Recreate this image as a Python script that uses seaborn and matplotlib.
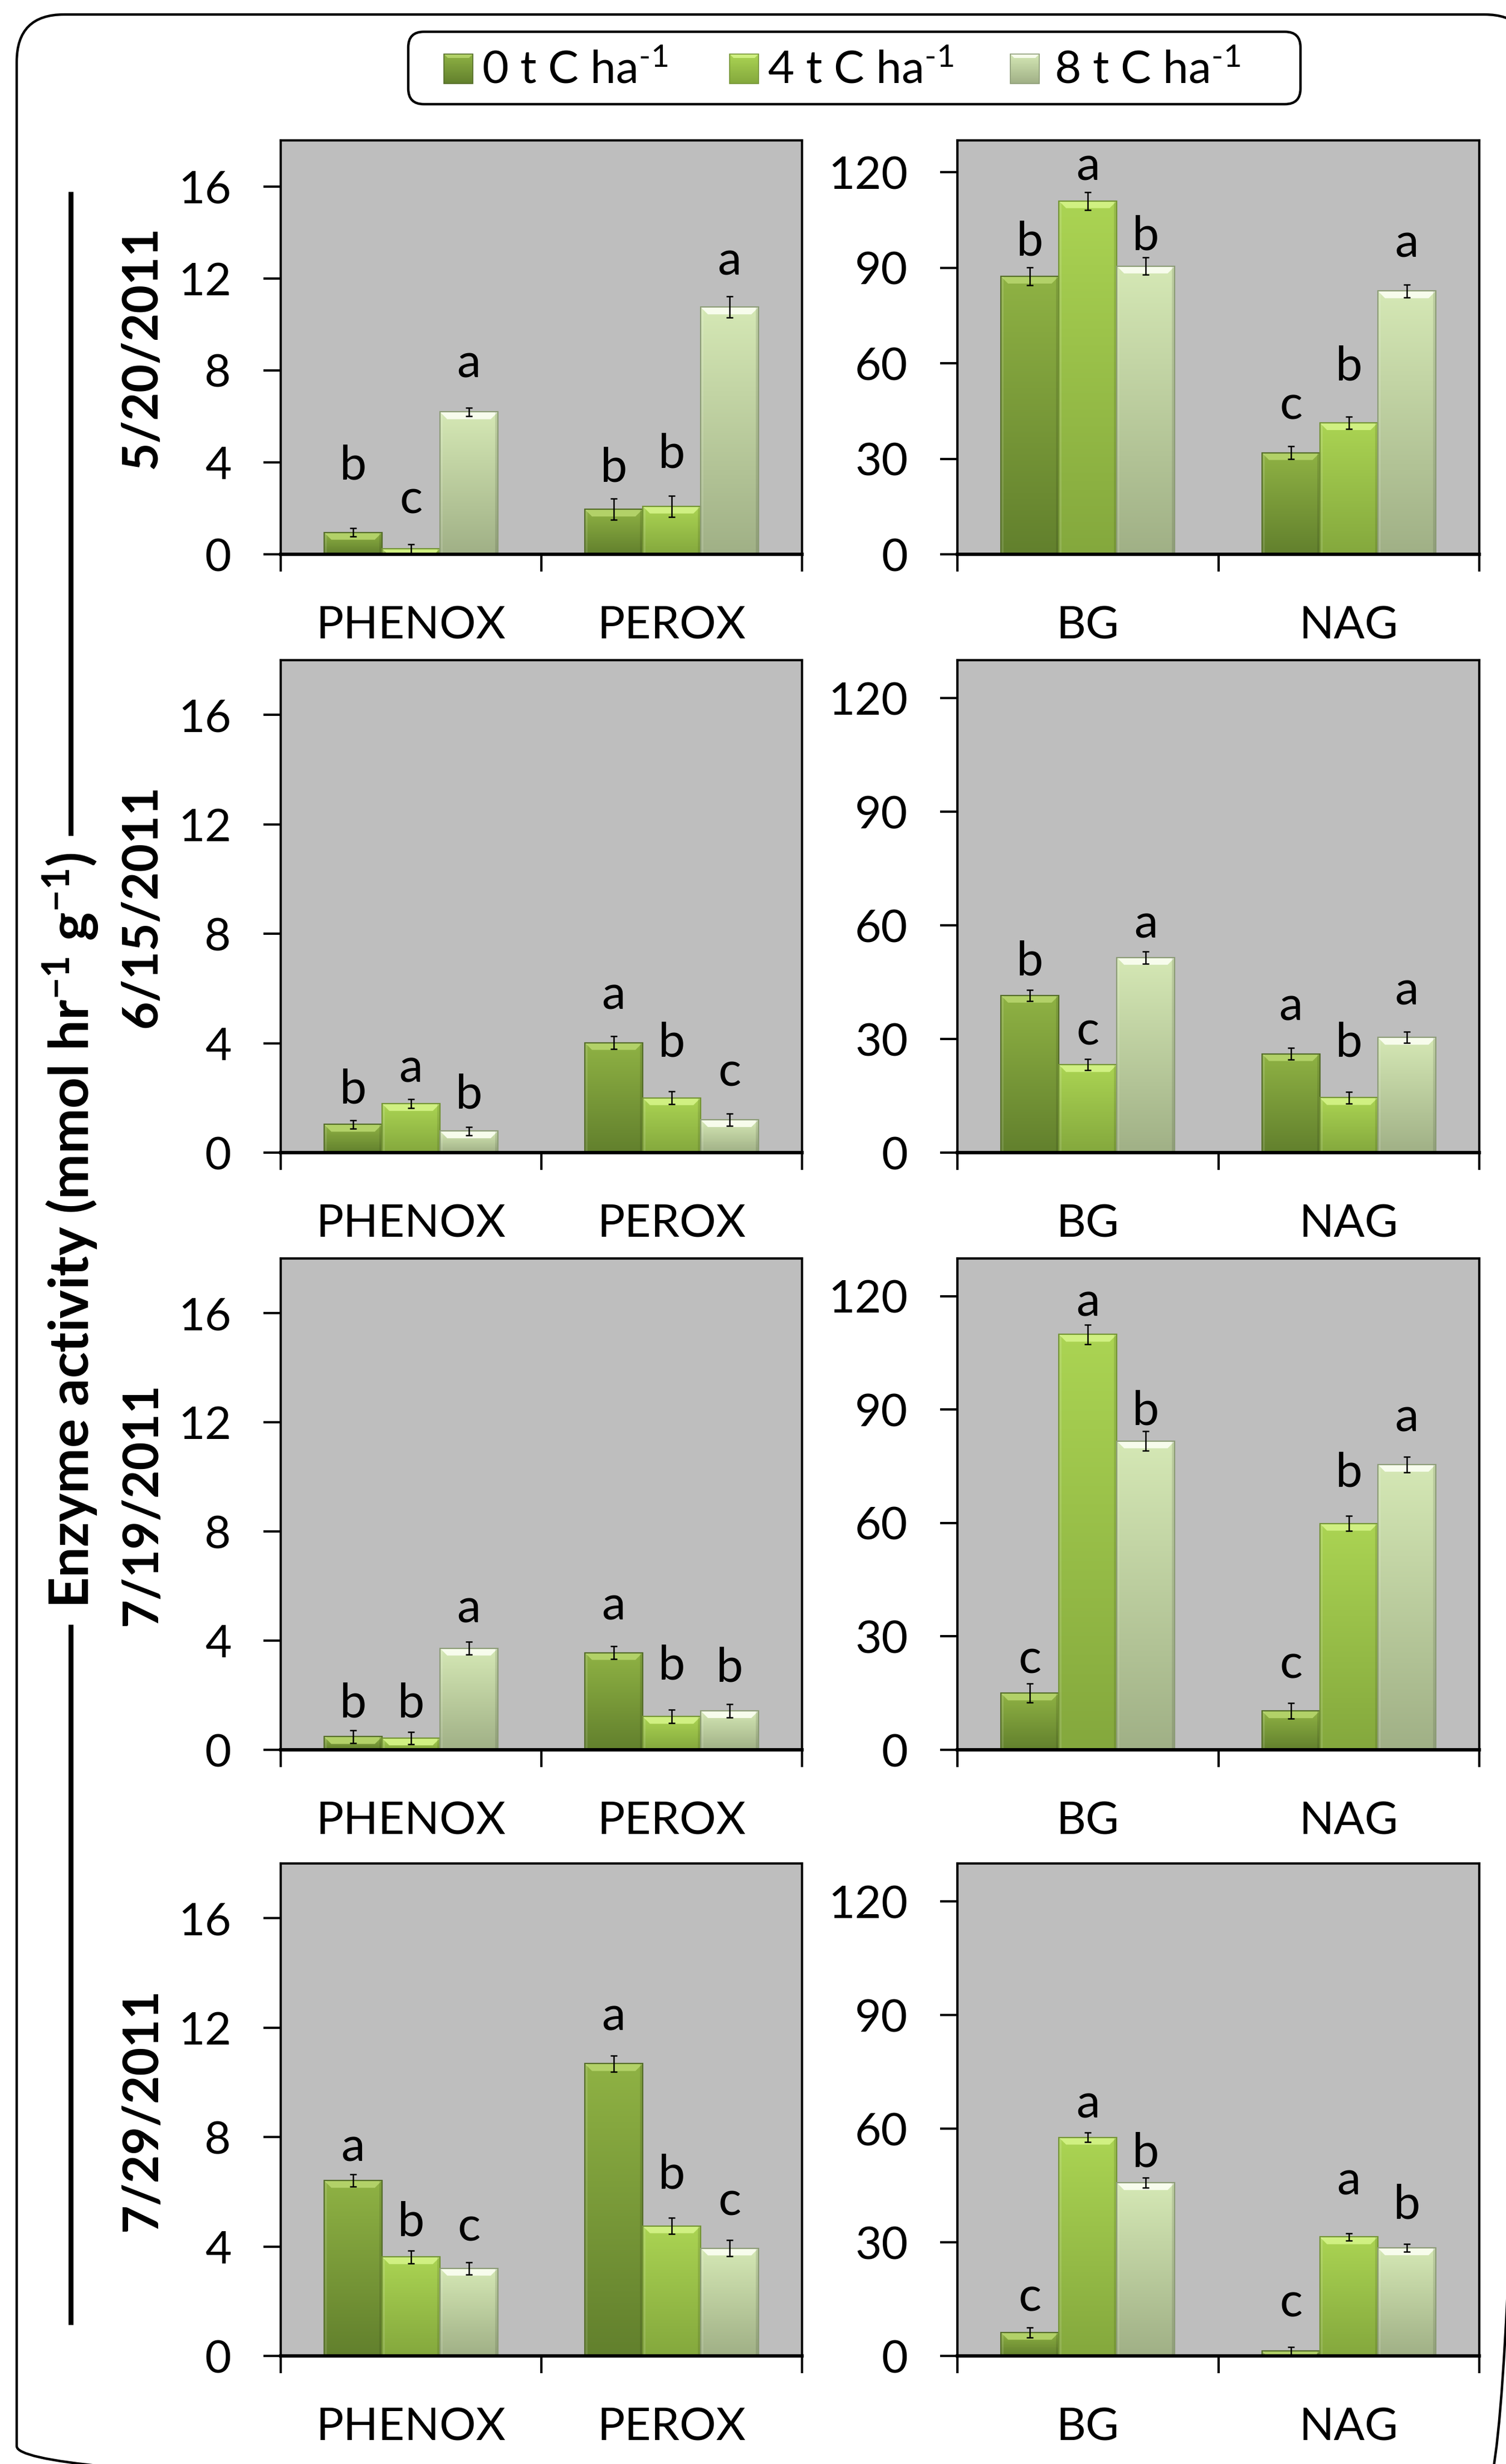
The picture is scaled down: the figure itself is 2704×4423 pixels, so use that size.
import numpy as np
import pandas as pd
import matplotlib
matplotlib.use("Agg")
import matplotlib.pyplot as plt
import seaborn as sns
from matplotlib.colors import LinearSegmentedColormap
from matplotlib.patches import FancyBboxPatch, Polygon, Rectangle
from matplotlib.lines import Line2D
from matplotlib.container import BarContainer

# ---------------- data ----------------
dates = ["5/20/2011", "6/15/2011", "7/19/2011", "7/29/2011"]
treatments = [r"0 t C ha$^{\text{-1}}$", r"4 t C ha$^{\text{-1}}$", r"8 t C ha$^{\text{-1}}$"]
ox_enzymes = ["PHENOX", "PEROX"]
hy_enzymes = ["BG", "NAG"]

# [date][enzyme][treatment]
ox_mean = [
    [[0.95, 0.25, 6.19], [1.96, 2.09, 10.75]],
    [[1.03, 1.79, 0.79], [4.02, 2.00, 1.20]],
    [[0.48, 0.43, 3.72], [3.56, 1.22, 1.43]],
    [[6.41, 3.62, 3.20], [10.68, 4.75, 3.94]],
]
ox_se = [
    [[0.18, 0.19, 0.19], [0.47, 0.46, 0.46]],
    [[0.15, 0.16, 0.15], [0.23, 0.23, 0.23]],
    [[0.23, 0.23, 0.23], [0.24, 0.24, 0.24]],
    [[0.23, 0.23, 0.23], [0.29, 0.29, 0.30]],
]
hy_mean = [
    [[87.3, 111.0, 90.5], [31.9, 41.3, 82.7]],
    [[41.5, 23.2, 51.5], [26.1, 14.5, 30.4]],
    [[15.0, 109.9, 81.7], [10.3, 59.9, 75.5]],
    [[6.2, 57.7, 45.7], [1.3, 31.4, 28.5]],
]
hy_se = [
    [[2.8, 2.8, 2.7], [2.0, 1.9, 2.0]],
    [[1.5, 1.5, 1.6], [1.6, 1.6, 1.5]],
    [[2.5, 2.6, 2.6], [2.1, 2.0, 2.1]],
    [[1.3, 1.3, 1.3], [1.0, 1.0, 1.0]],
]
ox_letters = [
    [["b", "c", "a"], ["b", "b", "a"]],
    [["b", "a", "b"], ["a", "b", "c"]],
    [["b", "b", "a"], ["a", "b", "b"]],
    [["a", "b", "c"], ["a", "b", "c"]],
]
hy_letters = [
    [["b", "a", "b"], ["c", "b", "a"]],
    [["b", "c", "a"], ["a", "b", "a"]],
    [["c", "a", "b"], ["c", "b", "a"]],
    [["c", "a", "b"], ["c", "a", "b"]],
]
# baseline height of the significance letters (data units)
ox_letter_y = [
    [[3.27, 1.78, 7.68], [3.17, 3.76, 12.15]],
    [[1.81, 2.57, 1.62], [5.25, 3.52, 2.43]],
    [[1.20, 1.20, 4.67], [4.76, 2.58, 2.49]],
    [[7.11, 4.38, 4.20], [11.9, 6.12, 5.15]],
]
hy_letter_y = [
    [[93.9, 117.5, 95.7], [42.4, 54.6, 93.4]],
    [[46.9, 28.5, 56.7], [34.9, 25.3, 39.0]],
    [[20.3, 114.7, 86.0], [18.9, 69.6, 84.3]],
    [[11.8, 62.9, 50.0], [10.4, 42.6, 36.3]],
]
ox_ticks = [0, 4, 8, 12, 16]
hy_ticks = [0, 30, 60, 90, 120]
ylabel = r"Enzyme activity (mmol hr$^{\mathbf{-1}}$ g$^{\mathbf{-1}}$)"

# ---------------- style ----------------
sns.set_style("white")
plt.rcParams["font.family"] = ["Lato", "DejaVu Sans"]
plt.rcParams["mathtext.fontset"] = "custom"
plt.rcParams["mathtext.rm"] = "Lato"
plt.rcParams["mathtext.it"] = "Lato:italic"
plt.rcParams["mathtext.bf"] = "Lato:bold"
plt.rcParams["text.color"] = "black"
plt.rcParams["xtick.color"] = "black"
plt.rcParams["ytick.color"] = "black"

flat = ["#7a9a3a", "#98c048", "#bccda0"]
grad_top = ["#8fb244", "#abd453", "#d5e8b5"]
grad_bot = ["#62802d", "#84a83d", "#a0b086"]
bevel_col = ["#b2d168", "#d0f082", "#f7fcec"]
edge_col = ["#536c28", "#739434", "#8c9c76"]
cmaps = [LinearSegmentedColormap.from_list("g%d" % i, [grad_bot[i], grad_top[i]]) for i in range(3)]
grad = np.linspace(0, 1, 256)[:, None]

W, H = 2704, 4423
DPI = 200
fig = plt.figure(figsize=(W / DPI, H / DPI), dpi=DPI)
fig.patch.set_facecolor("white")

rows_px = [(252, 995), (1185, 2069), (2259, 3141), (3345, 4229)]
cols_px = [(504, 1440), (1719, 2656)]
FS = 29.5


def px_rect(x0, x1, y0, y1):
    return [x0 / W, 1 - y1 / H, (x1 - x0) / W, (y1 - y0) / H]


def draw_panel(ax, enzymes, means, ses, letters, letter_y, ymax, yticks, w_px, h_px):
    df = pd.DataFrame({
        "enzyme": np.repeat(enzymes, 3),
        "treatment": treatments * 2,
        "value": np.ravel(means),
    })
    sns.barplot(data=df, x="enzyme", y="value", hue="treatment", order=enzymes,
                hue_order=treatments, palette=flat, saturation=1, width=0.667,
                errorbar=None, legend=False, ax=ax, zorder=2, linewidth=0)
    ax.set_xlim(-0.5, 1.5)
    ax.set_ylim(0, ymax)
    ppu_y = h_px / ymax
    ppu_x = w_px / 2.0
    bar_w = 0.667 / 3
    bars = [b for cont in list(ax.containers) if isinstance(cont, BarContainer) for b in cont]
    for bar in bars:
        x0, w, h = bar.get_x(), bar.get_width(), bar.get_height()
        xc = x0 + w / 2
        j = int(round(xc))
        ci = int(round((xc - j) / bar_w)) + 1
        im = ax.imshow(grad, extent=(x0, x0 + w, 0, h), origin="lower", cmap=cmaps[ci],
                       aspect="auto", interpolation="bilinear", zorder=2.1)
        im.set_clip_path(bar)
        bh = 13 / ppu_y
        bw = 13 / ppu_x
        poly = Polygon([(x0, h), (x0 + w, h), (x0 + w - bw, h - bh), (x0 + bw, h - bh)],
                       closed=True, fc=bevel_col[ci], ec="none", zorder=2.2)
        ax.add_patch(poly)
        poly.set_clip_path(bar)
        sw = 5 / ppu_x
        lft = Rectangle((x0, 0), sw, h, fc="white", alpha=0.12, ec="none", zorder=2.2)
        rgt = Rectangle((x0 + w - sw, 0), sw, h, fc="black", alpha=0.10, ec="none", zorder=2.2)
        for p in (lft, rgt):
            ax.add_patch(p)
            p.set_clip_path(bar)
        ax.add_patch(Rectangle((x0, 0), w, h, fill=False, ec=edge_col[ci], lw=0.8, zorder=2.3))
        ax.errorbar(xc, h, yerr=ses[j][ci], fmt="none", ecolor="black", elinewidth=0.9,
                    capsize=2.3, capthick=0.9, zorder=3)
        ax.text(xc, letter_y[j][ci], letters[j][ci], ha="center", va="baseline",
                fontsize=31, zorder=4)
    ax.set_xlim(-0.5, 1.5)
    ax.set_ylim(0, ymax)
    ax.set_facecolor("#bebebe")
    ax.set_xlabel("")
    ax.set_ylabel("")
    ax.set_yticks(yticks)
    ax.set_yticklabels([str(t) for t in yticks])
    ax.tick_params(axis="y", which="major", direction="out", length=11, width=1.5, pad=21,
                   labelsize=FS, left=True)
    ax.set_xticks([0, 1])
    ax.set_xticklabels(enzymes)
    ax.tick_params(axis="x", which="major", length=0, pad=33, labelsize=FS, bottom=True)
    ax.set_xticks([-0.5, 0.5, 1.5], minor=True)
    ax.tick_params(axis="x", which="minor", direction="out", length=11, width=1.5, bottom=True)
    for name, sp in ax.spines.items():
        sp.set_visible(True)
        sp.set_color("black")
        sp.set_linewidth(1.5)
        sp.set_zorder(5)
    ax.spines["bottom"].set_linewidth(2.2)


for r in range(4):
    y0, y1 = rows_px[r]
    for c in range(2):
        x0, x1 = cols_px[c]
        ax = fig.add_axes(px_rect(x0, x1, y0, y1))
        if c == 0:
            draw_panel(ax, ox_enzymes, ox_mean[r], ox_se[r], ox_letters[r], ox_letter_y[r],
                       18, ox_ticks, x1 - x0, y1 - y0)
        else:
            draw_panel(ax, hy_enzymes, hy_mean[r], hy_se[r], hy_letters[r], hy_letter_y[r],
                       130, hy_ticks, x1 - x0, y1 - y0)

# ---------------- overlay (pixel coordinates) ----------------
ov = fig.add_axes([0, 0, 1, 1], zorder=-5)
ov.set_axis_off()

frame = FancyBboxPatch((30, 26), 2720, 4450, boxstyle="round,pad=0,rounding_size=85",
                       fc="none", ec="black", lw=1.6, clip_on=False)
ov.add_patch(frame)

leg = FancyBboxPatch((733, 57), 1602, 130, boxstyle="round,pad=0,rounding_size=28",
                     fc="white", ec="black", lw=1.6, clip_on=False)
ov.add_patch(leg)
patch_x = [797, 1310, 1814]
text_x = [865, 1378, 1893]
for i in range(3):
    ov.imshow(grad, extent=(patch_x[i], patch_x[i] + 52, 150, 97), origin="lower",
              cmap=cmaps[i], aspect="auto", interpolation="bilinear", zorder=3)
    ov.add_patch(Polygon([(patch_x[i], 97), (patch_x[i] + 52, 97), (patch_x[i] + 45, 104),
                          (patch_x[i] + 7, 104)], closed=True, fc=bevel_col[i], ec="none", zorder=3.1))
    ov.add_patch(Rectangle((patch_x[i], 97), 52, 53, fill=False, ec=edge_col[i], lw=0.6, zorder=3.2))
    ov.text(text_x[i], 150, treatments[i], ha="left", va="baseline", fontsize=FS, zorder=4)

for r in range(4):
    yc = (rows_px[r][0] + rows_px[r][1]) / 2
    ov.text(255, yc, dates[r], rotation=90, ha="center", va="center", fontsize=31.5,
            fontweight="bold")

ov.text(127, 2208, ylabel, rotation=90, ha="center", va="center", fontsize=35,
        fontweight="bold")
ov.add_line(Line2D([127, 127], [344, 1500], color="black", lw=3.2, solid_capstyle="butt"))
ov.add_line(Line2D([127, 127], [2916, 4173], color="black", lw=3.2, solid_capstyle="butt"))

ov.set_xlim(0, W)
ov.set_ylim(H, 0)

fig.savefig("out.png", dpi=DPI, facecolor="white")
